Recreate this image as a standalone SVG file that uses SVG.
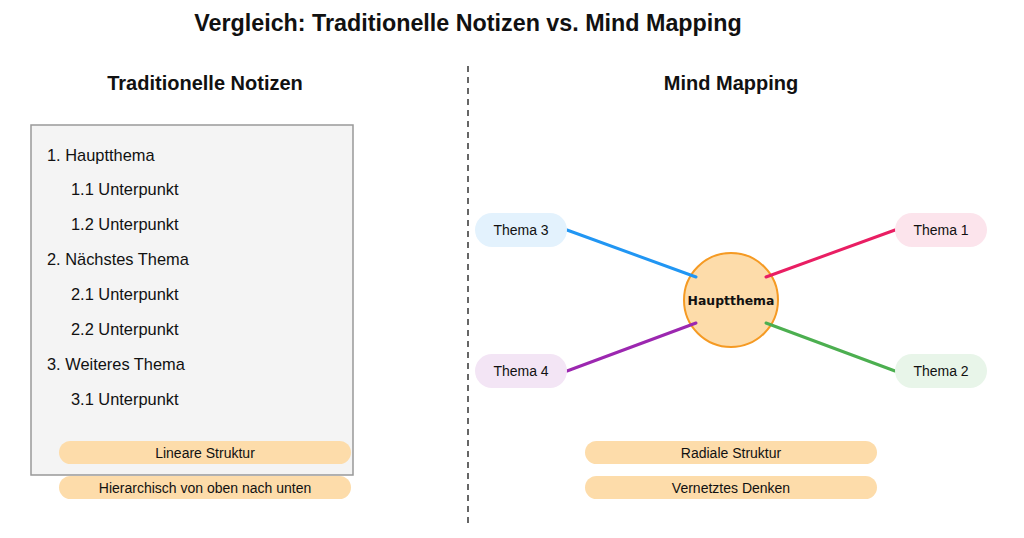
<svg xmlns="http://www.w3.org/2000/svg" width="1024" height="538" viewBox="0 0 1024 538">
<style>
text{font-family:"Liberation Sans",Arial,sans-serif;fill:#111}
.title{font-size:23.3px;font-weight:bold;text-anchor:middle}
.sub{font-size:20px;font-weight:bold;text-anchor:middle}
.item{font-size:16.4px}
.pill{fill:#fddcaa}
.pt{font-size:14px;text-anchor:middle}
.th{font-size:14px;text-anchor:middle}
.conn{stroke-width:3;fill:none;stroke-linecap:round}
</style>
<rect width="1024" height="538" fill="#fff"/>
<text class="title" x="468" y="31">Vergleich: Traditionelle Notizen vs. Mind Mapping</text>
<text class="sub" x="205" y="90">Traditionelle Notizen</text>
<text class="sub" x="731" y="90">Mind Mapping</text>
<line x1="468" y1="66" x2="468" y2="528" stroke="#666" stroke-width="2" stroke-dasharray="6 5"/>
<g id="notes">
<rect x="31" y="125" width="322" height="350" fill="#f4f4f4" stroke="#999" stroke-width="1.5"/>
<text class="item" x="47" y="161">1. Hauptthema</text>
<text class="item" x="71" y="195">1.1 Unterpunkt</text>
<text class="item" x="71" y="230">1.2 Unterpunkt</text>
<text class="item" x="47" y="265">2. Nächstes Thema</text>
<text class="item" x="71" y="300">2.1 Unterpunkt</text>
<text class="item" x="71" y="335">2.2 Unterpunkt</text>
<text class="item" x="47" y="370">3. Weiteres Thema</text>
<text class="item" x="71" y="405">3.1 Unterpunkt</text>
</g>
<g id="pill-linear"><rect class="pill" x="59" y="441" width="292" height="23" rx="11.5"/><text class="pt" x="205" y="457.5">Lineare Struktur</text></g>
<g id="pill-hier"><rect class="pill" x="59" y="476" width="292" height="23" rx="11.5"/><text class="pt" x="205" y="492.5">Hierarchisch von oben nach unten</text></g>
<g id="pill-radial"><rect class="pill" x="585" y="441" width="292" height="23" rx="11.5"/><text class="pt" x="731" y="457.5">Radiale Struktur</text></g>
<g id="pill-vernetzt"><rect class="pill" x="585" y="476" width="292" height="23" rx="11.5"/><text class="pt" x="731" y="492.5">Vernetztes Denken</text></g>
<g id="center">
<circle cx="731" cy="300" r="47" fill="#fddcaa" stroke="#f59a23" stroke-width="2"/>
<text x="731" y="304.5" style="font-family:'DejaVu Sans',sans-serif;font-size:12.4px;font-weight:bold;text-anchor:middle">Hauptthema</text>
</g>
<g id="connectors">
<path class="conn" stroke="#2196f3" d="M567,230 L696,277"/>
<path class="conn" stroke="#9c27b0" d="M567,371 L696,323"/>
<path class="conn" stroke="#e91e63" d="M895,230 L766,277"/>
<path class="conn" stroke="#4caf50" d="M895,371 L766,323"/>
</g>
<g id="thema1"><rect x="895" y="213" width="92" height="34" rx="17" fill="#fce4ec"/><text class="th" x="941" y="235">Thema 1</text></g>
<g id="thema2"><rect x="895" y="354" width="92" height="34" rx="17" fill="#e8f5e9"/><text class="th" x="941" y="376">Thema 2</text></g>
<g id="thema3"><rect x="475" y="213" width="92" height="34" rx="17" fill="#e3f2fd"/><text class="th" x="521" y="235">Thema 3</text></g>
<g id="thema4"><rect x="475" y="354" width="92" height="34" rx="17" fill="#f3e5f5"/><text class="th" x="521" y="376">Thema 4</text></g>
</svg>
